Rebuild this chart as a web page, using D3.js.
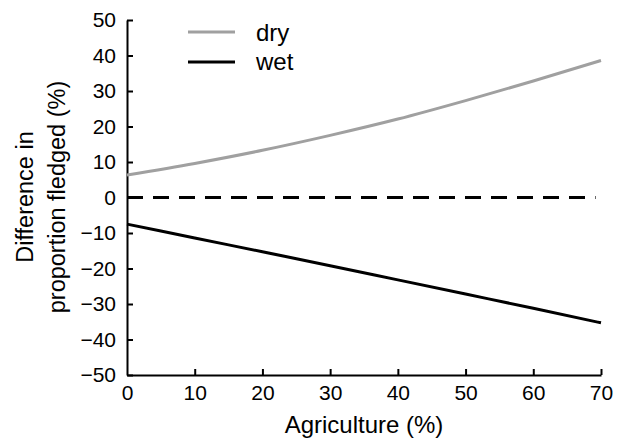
<!DOCTYPE html>
<html><head><meta charset="utf-8">
<script src="https://cdn.jsdelivr.net/npm/d3@7"></script>
<style>body{margin:0;background:#fff}svg{display:block}text{font-family:"Liberation Sans",Arial,sans-serif;fill:#000}</style>
</head><body>
<svg id="c" width="621" height="440"></svg>
<script>
const agriculture = [0, 10, 20, 30, 40, 50, 60, 70];
const dryValues = [6.3, 9.6, 13.3, 17.5, 22.1, 27.3, 32.8, 38.6];
const wetValues = [-7.5, -11.4, -15.3, -19.2, -23.2, -27.2, -31.2, -35.3];
const xTicks = [0, 10, 20, 30, 40, 50, 60, 70];
const yTicks = [-50, -40, -30, -20, -10, 0, 10, 20, 30, 40, 50];
const seriesNames = ["dry", "wet"];
const seriesColors = ["#a0a0a0", "#000000"];

const svg = d3.select("#c");
const x = d3.scaleLinear().domain([0, 70]).range([127, 601]);
const y = d3.scaleLinear().domain([-50, 50]).range([375, 20]);

// axes
const xAxis = svg.append("g").attr("transform", `translate(0,${y(-50)})`)
  .call(d3.axisBottom(x).tickValues(xTicks).tickSizeInner(-6).tickSizeOuter(0).tickPadding(10));
const yAxis = svg.append("g").attr("transform", `translate(${x(0)},0)`)
  .call(d3.axisLeft(y).tickValues(yTicks).tickSizeInner(-6).tickSizeOuter(0).tickPadding(11).tickFormat(d => d < 0 ? "\u2212" + Math.abs(d) : d));
[xAxis, yAxis].forEach(g => {
  g.attr("font-size", null).attr("font-family", null);
  g.select(".domain").attr("stroke", "#000").attr("stroke-width", 2);
  g.selectAll(".tick line").attr("stroke", "#000").attr("stroke-width", 2);
  g.selectAll(".tick text").style("font-size", "21px").attr("fill", "#000");
});
xAxis.selectAll(".tick").filter(d => d === 0).select("line").remove();
xAxis.selectAll(".tick text").attr("dy", "0.71em").attr("y", 10);

// zero dashed line
svg.append("line").attr("x1", x(0)).attr("x2", x(69.2)).attr("y1", y(0)).attr("y2", y(0))
  .attr("stroke", "#000").attr("stroke-width", 3).attr("stroke-dasharray", "16,10");

const line = d3.line().x((d, i) => x(agriculture[i])).y(d => y(d)).curve(d3.curveMonotoneX);
[dryValues, wetValues].forEach((vals, i) => {
  svg.append("path").attr("d", line(vals)).attr("fill", "none")
    .attr("stroke", seriesColors[i]).attr("stroke-width", 3);
});

// legend
seriesNames.forEach((n, i) => {
  const ly = 32 + i * 30;
  svg.append("line").attr("x1", 188).attr("x2", 235).attr("y1", ly).attr("y2", ly)
    .attr("stroke", seriesColors[i]).attr("stroke-width", 3);
  svg.append("text").attr("x", 256).attr("y", ly + 9 - i).style("font-size", "24px").text(n);
});

// axis titles
svg.append("text").attr("x", x(35)).attr("y", 433).attr("text-anchor", "middle")
  .style("font-size", "24px").text("Agriculture (%)");
const yt = svg.append("text").attr("transform", "translate(0,197) rotate(-90)")
  .attr("text-anchor", "middle").style("font-size", "23.5px");
yt.append("tspan").attr("x", 0).attr("y", 33).text("Difference in");
yt.append("tspan").attr("x", 0).attr("y", 65).text("proportion fledged (%)");
</script>
</body></html>
